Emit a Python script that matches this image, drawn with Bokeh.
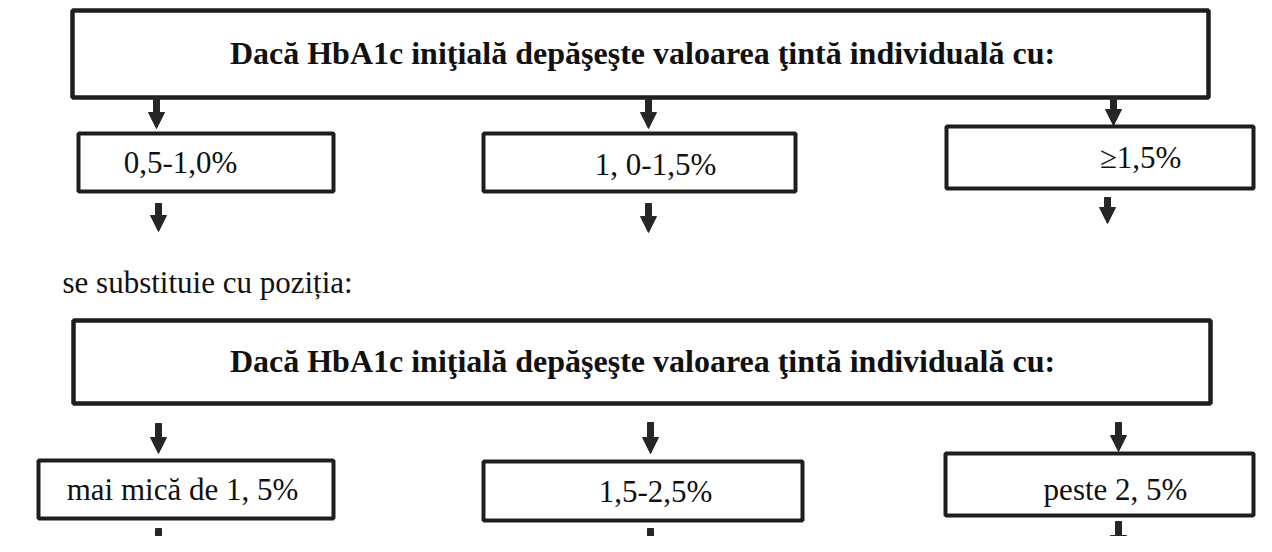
from bokeh.plotting import figure
from bokeh.models import Range1d
from bokeh.embed import file_html
from bokeh.resources import INLINE
from bokeh.core.properties import value

# ---- content ----
title_text = "Dacă HbA1c iniţială depăşeşte valoarea ţintă individuală cu:"
old_labels = ["0,5-1,0%", "1, 0-1,5%", "≥1,5%"]
new_labels = ["mai mică de 1, 5%", "1,5-2,5%", "peste 2, 5%"]
intro_text = "se substituie cu poziția:"

# ---- layout (pixel coordinates) ----
big_left = [72, 73]
big_right = [1208, 1210]
big_top = [10, 320]
big_bottom = [97, 403]
title_x = [642, 642]
title_y = [52, 360]

row1_left = [78, 483, 946]
row1_right = [333, 795, 1253]
row1_top = [133, 133, 126]
row1_bottom = [191, 191, 188]
row1_tx = [180, 655, 1140]
row1_ty = [162, 164, 157]

row2_left = [38, 483, 945]
row2_right = [333, 802, 1253]
row2_top = [460, 461, 453]
row2_bottom = [518, 520, 515]
row2_tx = [182, 655, 1115]
row2_ty = [489, 491, 489]

arrow_x = [156, 648, 1113, 158, 648, 1107, 158, 650, 1118, 158, 650, 1118]
arrow_y0 = [97, 97, 97, 203, 203, 197, 423, 422, 422, 528, 528, 521]
arrow_y1 = [128, 128, 125, 231, 232, 223, 453, 453, 451, 556, 554, 551]

INK = "#1e1e1e"
FONT = value("Liberation Serif")

W, H = 1256, 536
p = figure(width=W, height=H, output_backend="svg", toolbar_location=None,
           x_range=Range1d(0, W), y_range=Range1d(H, 0),
           min_border=0, outline_line_color=None)
p.axis.visible = False
p.grid.visible = False
p.background_fill_color = "white"
p.border_fill_color = "white"

# big boxes
p.quad(left=big_left, right=big_right, top=big_top, bottom=big_bottom,
       fill_color="white", line_color=INK, line_width=4.5)
# small boxes
p.quad(left=row1_left, right=row1_right, top=row1_top, bottom=row1_bottom,
       fill_color="white", line_color=INK, line_width=4)
p.quad(left=row2_left, right=row2_right, top=row2_top, bottom=row2_bottom,
       fill_color="white", line_color=INK, line_width=4)

# arrows
HL, HW, SW = 16, 8, 3
xs, ys = [], []
for x, a, b in zip(arrow_x, arrow_y0, arrow_y1):
    h = b - HL
    xs.append([x - SW, x + SW, x + SW, x + HW, x, x - HW, x - SW])
    ys.append([a, a, h, h, b, h, h])
p.patches(xs, ys, fill_color="#262626", line_color="#262626", line_width=1)

# texts
p.text(x=title_x, y=title_y, text=[title_text, title_text], text_align="center",
       text_baseline="alphabetic", text_font=FONT, text_font_size="32px",
       text_font_style="bold", text_color="#111111")
p.text(x=row1_tx, y=row1_ty, text=old_labels, text_align="center",
       text_baseline="alphabetic", text_font=FONT, text_font_size="31px",
       text_color="#111111")
p.text(x=row2_tx, y=row2_ty, text=new_labels, text_align="center",
       text_baseline="alphabetic", text_font=FONT, text_font_size="31px",
       text_color="#111111")
p.text(x=[62], y=[282], text=[intro_text], text_align="left",
       text_baseline="alphabetic", text_font=FONT, text_font_size="31px",
       text_color="#111111")

open("out.html", "w").write(file_html(p, INLINE))
